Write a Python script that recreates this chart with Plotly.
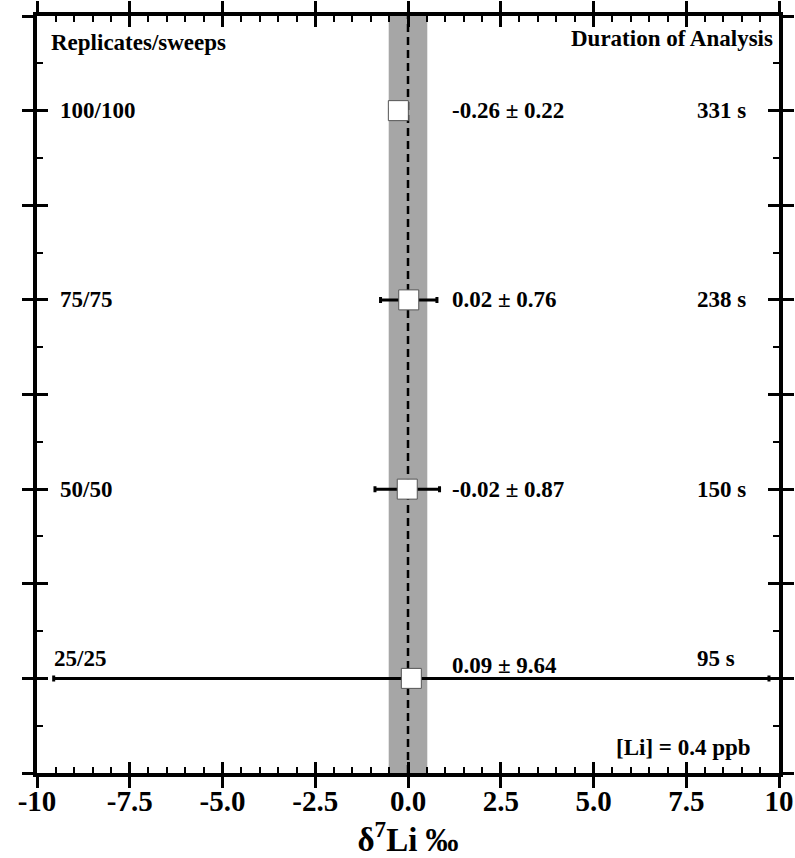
import plotly.graph_objects as go

# ---- data ----
row_labels = ["25/25", "50/50", "75/75", "100/100"]
row_pos = [1, 2, 3, 4]
means = [0.09, -0.02, 0.02, -0.26]
errors = [9.64, 0.87, 0.76, 0.22]
durations = ["95 s", "150 s", "238 s", "331 s"]
value_texts = ["0.09 ± 9.64", "-0.02 ± 0.87", "0.02 ± 0.76", "-0.26 ± 0.22"]
ref_value = 0.0
band_half = 0.52
x_ticks = [-10, -7.5, -5, -2.5, 0, 2.5, 5, 7.5, 10]
x_ticktext = ["-10", "-7.5", "-5.0", "-2.5", "0.0", "2.5", "5.0", "7.5", "10"]

FONT = "Liberation Serif"

fig = go.Figure()

fig.add_trace(go.Scatter(
    x=means, y=row_pos, mode="markers",
    marker=dict(symbol="square", size=20, color="white", line=dict(color="#555", width=1)),
    error_x=dict(type="data", array=errors, visible=True, color="black", thickness=3, width=3),
    showlegend=False, hoverinfo="skip",
))
# invisible trace to anchor the secondary (inner-tick) axes
fig.add_trace(go.Scatter(x=means, y=row_pos, xaxis="x2", yaxis="y2", mode="markers",
                         marker=dict(opacity=0), showlegend=False, hoverinfo="skip"))

# band and reference line
fig.add_shape(type="rect", xref="x", yref="paper", x0=ref_value - band_half, x1=ref_value + band_half,
              y0=0, y1=1, fillcolor="#a6a6a6", line=dict(width=0), layer="below")
fig.add_shape(type="line", xref="x", yref="paper", x0=ref_value, x1=ref_value, y0=0, y1=1,
              line=dict(color="black", width=2.5, dash="8px,5px"), layer="below")

tf = dict(family=FONT, size=23, color="black", weight="bold")
anns = []
for i, (lab, y) in enumerate(zip(row_labels, row_pos)):
    shift = 20 if y == 1 else 0
    vshift = 13 if y == 1 else 0
    anns.append(dict(x=-9.6 if y == 1 else -9.43, y=y, xref="x", yref="y", text=lab, showarrow=False,
                     xanchor="left", yanchor="middle", yshift=shift, font=tf))
    anns.append(dict(x=1.13, y=y, xref="x", yref="y", text=value_texts[i], showarrow=False,
                     xanchor="left", yanchor="middle", yshift=vshift, font=tf))
    anns.append(dict(x=7.74, y=y, xref="x", yref="y", text=durations[i], showarrow=False,
                     xanchor="left", yanchor="middle", yshift=shift, font=tf))
anns.append(dict(x=-9.68, y=4.36, xref="x", yref="y", text="Replicates/sweeps", showarrow=False,
                 xanchor="left", yanchor="middle", font=tf))
anns.append(dict(x=9.9, y=4.38, xref="x", yref="y", text="Duration of Analysis", showarrow=False,
                 xanchor="right", yanchor="middle", font=tf))
anns.append(dict(x=9.3, y=0.635, xref="x", yref="y", text="[Li] = 0.4 ppb", showarrow=False,
                 xanchor="right", yanchor="middle", font=tf))

major_y = [0.5 + 0.5 * k for k in range(9)]

fig.update_layout(
    template="none",
    width=795, height=858,
    margin=dict(l=37, r=16, t=16, b=85, autoexpand=False),
    paper_bgcolor="white", plot_bgcolor="white",
    annotations=anns,
    xaxis=dict(range=[-10, 10], tickmode="array", tickvals=x_ticks, ticktext=x_ticktext,
               ticks="outside", ticklen=11, tickwidth=2.5, tickcolor="black", automargin=False,
               ticklabelstandoff=-12,
               showline=True, linecolor="black", linewidth=3.5, mirror="ticks",
               showgrid=False, zeroline=False,
               tickfont=dict(family=FONT, size=29, color="black", weight="bold"),
               title=dict(text="δ<sup>7</sup>Li ‰", font=dict(family=FONT, size=33, color="black", weight="bold"),
                          standoff=6)),
    xaxis2=dict(range=[-10, 10], overlaying="x", side="bottom", tickmode="array", tickvals=x_ticks,
                ticks="inside", ticklen=11, tickwidth=2.5, tickcolor="black", mirror="ticks", automargin=False,
                showticklabels=False, showline=False, showgrid=False, zeroline=False,
                minor=dict(ticks="inside", dtick=0.5, tick0=0, ticklen=6, tickwidth=2, tickcolor="black",
                           showgrid=False)),
    yaxis=dict(range=[0.5, 4.5], tickmode="array", tickvals=major_y, automargin=False,
               ticks="outside", ticklen=11, tickwidth=2.5, tickcolor="black",
               showline=True, linecolor="black", linewidth=3.5, mirror="ticks",
               showticklabels=False, showgrid=False, zeroline=False),
    yaxis2=dict(range=[0.5, 4.5], overlaying="y", side="left", tickmode="array", tickvals=major_y,
                ticks="inside", ticklen=11, tickwidth=2.5, tickcolor="black", mirror="ticks", automargin=False,
                showticklabels=False, showline=False, showgrid=False, zeroline=False,
                minor=dict(ticks="inside", dtick=0.25, tick0=0.5, ticklen=6, tickwidth=2, tickcolor="black",
                           showgrid=False)),
)

fig.write_html("out.html", config={"displayModeBar": False},
               post_script="document.body.style.margin='0px';")
